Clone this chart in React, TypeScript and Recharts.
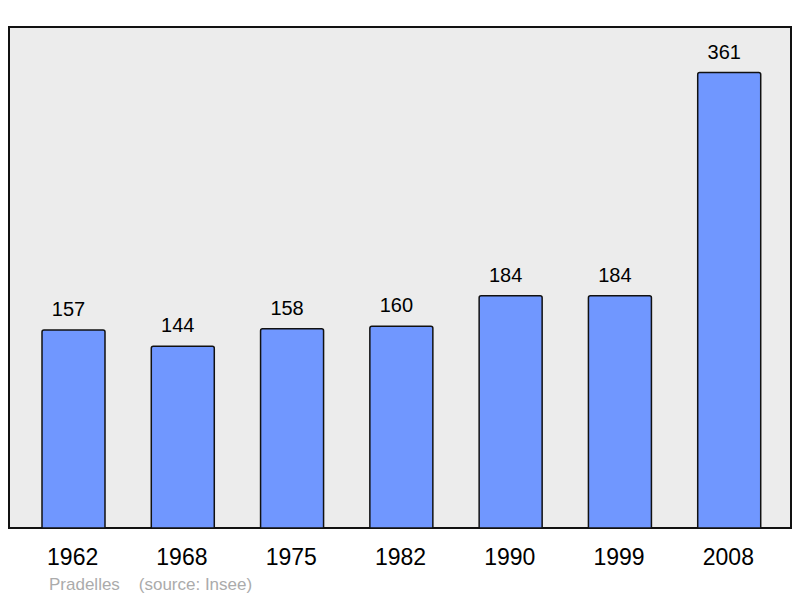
import { Bar, BarChart, CartesianGrid, LabelList, XAxis, YAxis } from 'recharts'

const years = ['1962', '1968', '1975', '1982', '1990', '1999', '2008']
const population = [157, 144, 158, 160, 184, 184, 361]
const town = 'Pradelles'
const source = '(source: Insee)'

const data = years.map((year, i) => ({ year, value: population[i] }))
const yMax = Math.max(...population) * 1.1

const font = '"Liberation Sans", Arial, sans-serif'

// frame lines on the plot edges
const frameX = ({ offset }: any) => [offset.left, offset.left + offset.width]
const frameY = ({ offset }: any) => [offset.top, offset.top + offset.height]

export default function App() {
  return (
    <div style={{ position: 'absolute', left: 0, top: 0, width: 800, height: 598, fontFamily: font }}>
      <BarChart
        width={800}
        height={598}
        data={data}
        margin={{ top: 27, right: 9, bottom: 69, left: 9 }}
      >
        <CartesianGrid
          fill="#ececec"
          fillOpacity={1}
          stroke="#111"
          strokeWidth={2}
          strokeLinecap="square"
          verticalCoordinatesGenerator={frameX}
          horizontalCoordinatesGenerator={frameY}
        />
        <YAxis hide domain={[0, yMax]} allowDataOverflow />
        <XAxis
          dataKey="year"
          height={1}
          axisLine={false}
          tickLine={false}
          padding={{ left: 10, right: 7 }}
          tick={{ fontSize: 23, fill: '#000', fontFamily: font, dx: -1 }}
          tickMargin={15}
        />
        <Bar
          dataKey="value"
          barSize={63}
          fill="#7097ff"
          stroke="#111"
          strokeWidth={1.5}
          radius={[2, 2, 0, 0]}
          isAnimationActive={false}
        >
          <LabelList
            dataKey="value"
            position="top"
            offset={14}
            dx={-5}
            style={{ fontSize: 20, fill: '#000', fontFamily: font }}
          />
        </Bar>
      </BarChart>
      <div
        style={{
          position: 'absolute',
          left: 49,
          top: 575,
          fontSize: 17,
          color: '#ababab',
          whiteSpace: 'pre',
          lineHeight: '20px',
        }}
      >
        {town + '    ' + source}
      </div>
    </div>
  )
}
